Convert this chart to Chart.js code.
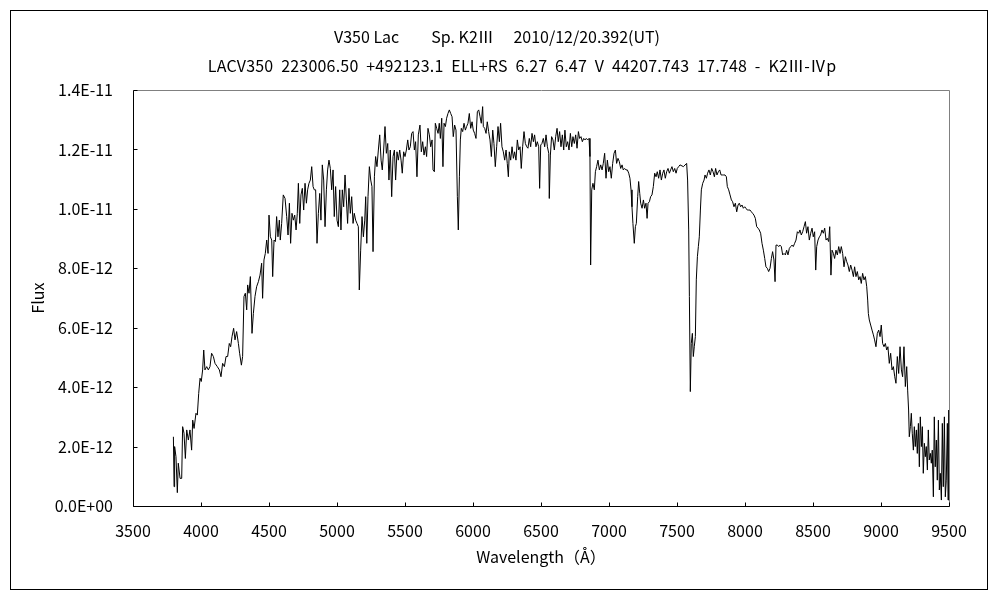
<!DOCTYPE html>
<html><head><meta charset="utf-8">
<script src="https://cdn.jsdelivr.net/npm/chart.js@4/dist/chart.umd.min.js"></script>
<style>html,body{margin:0;padding:0;background:#fff}#wrap{width:1000px;height:600px}</style>
</head><body><div id="wrap"><canvas id="c" width="1000" height="600"></canvas></div>
<script>
const titleLine1 = "V350 Lac\u3000\u3000Sp. K2\u2162\u3000 2010/12/20.392(UT)";
const titleLine2 = "LACV350 223006.50 +492123.1 ELL+RS 6.27 6.47 V 44207.743 17.748 - K2\u2162-\u2163p";
const xAxisTitle = "Wavelength\uFF08\u00C5\uFF09";
const yAxisTitle = "Flux";
const xTicks = [3500,4000,4500,5000,5500,6000,6500,7000,7500,8000,8500,9000,9500];
const yTicks = [0,2e-12,4e-12,6e-12,8e-12,1e-11,1.2e-11,1.4e-11];

const wavelength = [
3797,3802,3806,3816,3826,3833,3846,3858,3865,3875,3885,3895,3907,3919,3931,3939,3949,3963,3973,3983,
3993,4002,4012,4020,4029,4042,4054,4066,4078,4091,4103,4120,4135,4147,4159,4172,4184,4196,4208,4218,
4228,4240,4250,4262,4275,4284,4297,4306,4316,4326,4336,4343,4353,4363,4375,4385,4397,4409,4422,4434,
4446,4453,4463,4473,4483,4493,4500,4510,4520,4527,4537,4547,4556,4566,4576,4583,4593,4605,4618,4630,
4640,4650,4659,4669,4679,4689,4699,4708,4716,4726,4735,4745,4755,4765,4775,4784,4794,4804,4814,4824,
4833,4843,4853,4863,4873,4882,4892,4902,4912,4922,4931,4941,4951,4961,4971,4980,4990,5000,5010,5020,
5029,5039,5049,5059,5069,5078,5088,5098,5108,5118,5127,5137,5147,5157,5164,5174,5184,5194,5204,5211,
5219,5228,5238,5248,5257,5265,5275,5284,5294,5304,5314,5324,5333,5343,5353,5363,5373,5382,5392,5402,
5412,5422,5431,5441,5451,5461,5471,5480,5490,5500,5510,5520,5529,5539,5549,5559,5569,5578,5588,5598,
5610,5620,5630,5640,5650,5659,5669,5679,5689,5699,5706,5716,5723,5733,5743,5752,5760,5770,5779,5787,
5797,5806,5816,5826,5836,5846,5855,5865,5875,5885,5892,5900,5907,5914,5924,5934,5944,5953,5963,5973,
5983,5993,6002,6012,6022,6032,6042,6052,6061,6071,6076,6086,6096,6105,6115,6125,6135,6145,6154,6164,
6174,6184,6194,6203,6213,6223,6233,6243,6252,6260,6267,6277,6287,6297,6306,6316,6326,6336,6346,6355,
6365,6375,6385,6395,6404,6414,6424,6434,6444,6453,6463,6473,6483,6490,6498,6507,6517,6527,6537,6547,
6557,6561,6569,6578,6588,6598,6608,6618,6627,6637,6647,6657,6667,6676,6686,6696,6706,6716,6726,6735,
6745,6755,6765,6775,6784,6794,6804,6814,6824,6833,6843,6853,6860,6865,6873,6882,6892,6900,6909,6919,
6929,6939,6949,6958,6968,6978,6988,6998,7007,7017,7027,7037,7047,7056,7066,7076,7086,7096,7105,7115,
7125,7135,7145,7154,7162,7169,7176,7186,7194,7201,7211,7218,7226,7233,7243,7253,7262,7272,7280,7287,
7297,7306,7316,7326,7336,7346,7355,7365,7375,7385,7395,7404,7414,7424,7434,7444,7453,7463,7473,7483,
7493,7502,7512,7522,7547,7571,7578,7586,7591,7598,7605,7613,7620,7627,7635,7642,7650,7657,7664,7672,
7679,7689,7699,7706,7716,7725,7735,7745,7755,7765,7775,7784,7794,7804,7814,7824,7833,7843,7853,7863,
7870,7880,7890,7900,7909,7919,7929,7939,7949,7958,7968,7978,7988,7998,8007,8017,8027,8037,8047,8056,
8066,8076,8086,8096,8105,8115,8125,8135,8145,8154,8164,8174,8184,8194,8203,8213,8221,8228,8238,8248,
8257,8267,8277,8287,8297,8306,8316,8326,8336,8346,8355,8365,8375,8385,8395,8404,8414,8424,8434,8444,
8453,8463,8473,8483,8493,8502,8512,8520,8527,8537,8547,8556,8566,8576,8586,8596,8605,8615,8623,8632,
8640,8650,8659,8669,8679,8689,8699,8708,8718,8728,8738,8748,8757,8767,8777,8787,8797,8806,8816,8826,
8836,8846,8855,8865,8875,8885,8895,8902,8907,8914,8924,8934,8944,8953,8963,8973,8983,8993,9002,9012,
9022,9032,9042,9051,9061,9071,9081,9091,9101,9110,9120,9130,9140,9150,9159,9169,9179,9189,9196,9203,
9208,9216,9223,9230,9238,9245,9252,9260,9267,9275,9282,9289,9297,9304,9311,9319,9326,9333,9341,9348,
9355,9363,9370,9377,9385,9392,9399,9407,9414,9422,9429,9436,9444,9451,9458,9466,9473,9480,9488,9493,
9497
];

const fluxE12 = [
2.33,0.65,2.00,1.66,0.45,1.44,0.93,0.93,2.67,2.45,1.60,2.56,2.22,2.56,1.88,2.89,2.61,3.12,3.06,3.79,
4.30,4.19,4.58,5.25,4.58,4.69,4.58,4.69,5.14,5.03,4.80,4.69,4.58,4.35,4.80,4.69,5.03,5.03,5.47,5.36,
5.70,5.98,5.59,5.87,5.47,5.14,4.74,5.03,7.05,7.16,6.60,7.44,7.16,7.72,5.81,6.48,7.05,7.38,7.55,7.77,
8.17,6.99,8.28,8.50,8.95,8.50,9.79,9.06,8.95,7.72,8.95,8.90,9.74,9.06,9.62,8.95,9.51,10.47,10.35,9.74,
9.12,10.19,8.84,9.85,9.62,9.79,9.29,9.85,10.86,9.51,10.47,10.69,9.96,10.86,10.19,10.64,10.86,10.97,11.42,10.75,
10.64,10.64,8.84,9.85,10.52,9.62,11.48,10.97,9.40,10.64,11.31,11.64,11.36,10.64,11.31,9.74,10.75,9.62,9.40,10.64,
9.29,10.64,10.07,11.14,10.30,9.51,10.69,9.85,10.41,9.51,9.85,9.62,9.51,9.40,7.27,8.61,9.74,9.06,9.62,10.41,
8.84,10.41,11.42,10.97,10.75,8.56,11.08,11.76,11.42,11.98,12.49,11.64,11.31,11.98,12.77,11.87,12.20,10.97,11.98,10.41,
11.76,11.98,10.97,11.92,11.64,11.98,11.64,11.20,11.92,11.76,11.98,12.32,11.98,12.09,12.54,12.60,11.98,12.26,11.08,12.49,
12.82,11.92,12.26,11.81,12.09,11.76,12.71,12.49,12.09,12.32,11.31,11.25,12.88,12.71,12.54,12.88,12.37,13.05,11.42,12.88,
12.77,13.05,13.21,13.33,13.21,13.10,12.43,12.82,12.65,10.41,9.29,11.08,12.32,12.71,12.60,12.88,12.65,12.77,12.88,13.21,
12.71,12.93,12.65,12.54,12.37,13.27,13.33,13.10,12.88,13.44,12.77,12.71,12.54,12.93,12.60,12.32,11.76,12.65,12.20,11.42,
12.09,12.77,12.26,12.88,12.09,11.92,11.64,11.98,11.53,11.08,11.92,11.64,12.09,11.70,11.92,11.64,12.32,11.98,12.09,11.36,
12.09,12.60,12.20,12.09,12.04,12.37,12.09,12.54,12.26,12.49,12.09,12.26,12.09,10.69,12.15,12.20,12.37,12.09,12.49,12.09,
11.87,10.35,11.81,12.43,12.32,11.98,12.43,12.71,12.26,12.60,12.09,12.49,11.98,12.65,12.09,12.26,11.98,12.54,12.09,12.43,
12.20,12.49,12.04,12.60,12.37,12.43,12.26,12.37,12.32,12.37,12.32,12.37,11.76,8.11,10.64,10.86,10.64,11.25,11.42,11.64,
11.31,11.48,11.31,11.53,11.87,11.03,11.64,11.25,11.42,11.03,11.53,11.87,11.98,11.53,11.70,11.59,11.36,11.48,11.31,11.36,
11.31,11.31,11.20,11.03,10.64,10.07,9.51,8.84,9.40,9.51,10.41,10.92,10.52,10.19,10.02,10.30,10.02,10.19,9.68,10.19,
10.24,10.41,10.47,10.75,11.20,11.08,11.25,11.03,11.31,10.97,11.20,11.31,11.03,11.25,11.36,11.20,11.31,11.42,11.25,11.36,
11.20,11.36,11.42,11.48,11.42,11.53,10.97,9.29,7.05,3.85,5.47,5.81,5.03,5.36,5.70,7.61,8.39,8.73,9.06,9.96,
10.64,10.86,10.97,11.14,11.03,11.20,11.31,11.14,11.36,11.25,11.08,11.36,11.14,11.25,11.31,11.14,11.14,11.14,11.14,11.08,
10.75,10.64,10.47,10.30,10.24,10.07,10.19,9.90,10.13,10.19,10.07,10.13,10.02,10.07,10.02,9.96,9.96,9.96,9.90,9.85,
9.79,9.68,9.40,9.35,9.29,9.18,8.84,8.61,8.33,8.05,8.00,7.89,8.00,8.33,8.56,8.28,7.55,8.78,8.78,8.73,
8.78,8.73,8.45,8.50,8.45,8.61,8.45,8.67,8.73,8.78,8.73,8.84,8.95,9.23,9.18,9.29,9.12,9.23,9.40,9.57,
9.18,9.40,8.95,9.18,9.35,9.06,9.23,7.94,8.73,8.95,9.06,9.12,9.29,9.18,9.35,8.95,9.01,8.90,9.40,7.77,
8.61,8.50,8.33,8.61,8.45,8.73,8.50,8.73,8.50,8.05,8.39,8.22,8.11,7.89,8.11,7.94,7.72,8.05,7.72,7.89,
7.61,7.72,7.49,7.83,7.61,7.72,7.38,6.93,6.48,6.26,6.09,5.92,5.76,5.59,5.36,5.81,5.92,5.70,6.09,5.47,
5.36,5.47,5.25,5.36,4.80,5.14,4.58,4.69,4.35,4.13,5.03,4.46,5.36,4.58,4.35,5.36,4.02,4.69,3.90,3.23,
2.33,2.67,3.12,2.45,1.88,2.67,2.00,2.56,1.77,2.78,1.32,3.00,2.00,2.67,1.10,2.11,1.66,2.00,1.21,2.56,
1.55,1.77,1.44,1.88,0.31,3.00,1.32,2.22,0.87,2.89,0.54,1.10,0.20,2.78,0.65,3.00,0.31,0.87,2.78,0.20,
3.23
];

function sci(v) {
  if (Math.abs(v) < 1e-20) return '0.0E+00';
  const parts = v.toExponential(1).split('e');
  const n = parseInt(parts[1], 10);
  return parts[0] + 'E' + (n < 0 ? '-' : '+') + String(Math.abs(n)).padStart(2, '0');
}

const FONT = '"Noto Sans CJK JP", "Noto Sans", sans-serif';
Chart.defaults.font.family = FONT;
Chart.defaults.font.size = 16;
Chart.defaults.color = '#000';

const framePlugin = {
  id: 'frame',
  beforeDraw(chart) {
    const ctx = chart.ctx;
    ctx.save();
    ctx.fillStyle = '#fff';
    ctx.fillRect(0, 0, chart.width, chart.height);
    ctx.strokeStyle = '#000';
    ctx.lineWidth = 1;
    ctx.strokeRect(10.5, 10.5, 977, 579);
    ctx.fillStyle = '#000';
    ctx.font = '16px ' + FONT;
    ctx.textAlign = 'center';
    ctx.textBaseline = 'middle';
    ctx.fillText(titleLine1, 497, 37);
    if ('wordSpacing' in ctx) ctx.wordSpacing = '4px';
    if ('letterSpacing' in ctx) ctx.letterSpacing = '0.2px';
    ctx.fillText(titleLine2, 522, 66);
    ctx.restore();
  },
  afterDraw(chart) {
    const ctx = chart.ctx;
    const a = chart.chartArea;
    const L = Math.floor(a.left) + 0.5, R = Math.floor(a.right) + 0.5;
    const T = Math.floor(a.top) + 0.5, B = Math.floor(a.bottom) + 0.5;
    ctx.save();
    ctx.lineWidth = 1;
    ctx.strokeStyle = '#808080';
    ctx.beginPath();
    ctx.moveTo(L, T); ctx.lineTo(R, T); ctx.lineTo(R, B);
    ctx.stroke();
    ctx.strokeStyle = '#000';
    ctx.beginPath();
    ctx.moveTo(L, T); ctx.lineTo(L, B); ctx.lineTo(R, B);
    const xs = chart.scales.x, ys = chart.scales.y;
    xTicks.forEach(v => {
      const px = Math.round(xs.getPixelForValue(v)) + 0.5;
      ctx.moveTo(px, B); ctx.lineTo(px, B - 4);
    });
    yTicks.forEach(v => {
      const py = Math.round(ys.getPixelForValue(v)) + 0.5;
      ctx.moveTo(L, py); ctx.lineTo(L + 4, py);
    });
    ctx.stroke();
    ctx.restore();
  }
};

new Chart(document.getElementById('c'), {
  type: 'line',
  data: {
    datasets: [{
      data: wavelength.map((w, i) => ({x: w, y: fluxE12[i] * 1e-12})),
      borderColor: '#000',
      borderWidth: 1,
      pointRadius: 0,
      tension: 0,
      fill: false
    }]
  },
  options: {
    responsive: false,
    animation: false,
    devicePixelRatio: 1,
    layout: {padding: {top: 90, right: 51, left: 0, bottom: 0}},
    plugins: {legend: {display: false}, title: {display: false}, tooltip: {enabled: false}},
    scales: {
      x: {
        type: 'linear', min: 3500, max: 9500,
        afterBuildTicks: s => { s.ticks = xTicks.map(v => ({value: v})); },
        afterFit: s => { s.height = 94; },
        grid: {display: false, drawTicks: false},
        border: {display: false},
        ticks: {padding: 15, maxRotation: 0, autoSkip: false, callback: v => String(v)},
        title: {display: true, text: xAxisTitle, padding: {top: 0, bottom: 33}}
      },
      y: {
        type: 'linear', min: 0, max: 1.4e-11,
        afterBuildTicks: s => { s.ticks = yTicks.map(v => ({value: v})); },
        afterFit: s => { s.width = 133; },
        grid: {display: false, drawTicks: false},
        border: {display: false},
        ticks: {padding: 20, autoSkip: false, callback: v => sci(v)},
        title: {display: true, text: yAxisTitle, padding: {top: 28, bottom: 0}}
      }
    }
  },
  plugins: [framePlugin]
});
</script>
</body></html>
